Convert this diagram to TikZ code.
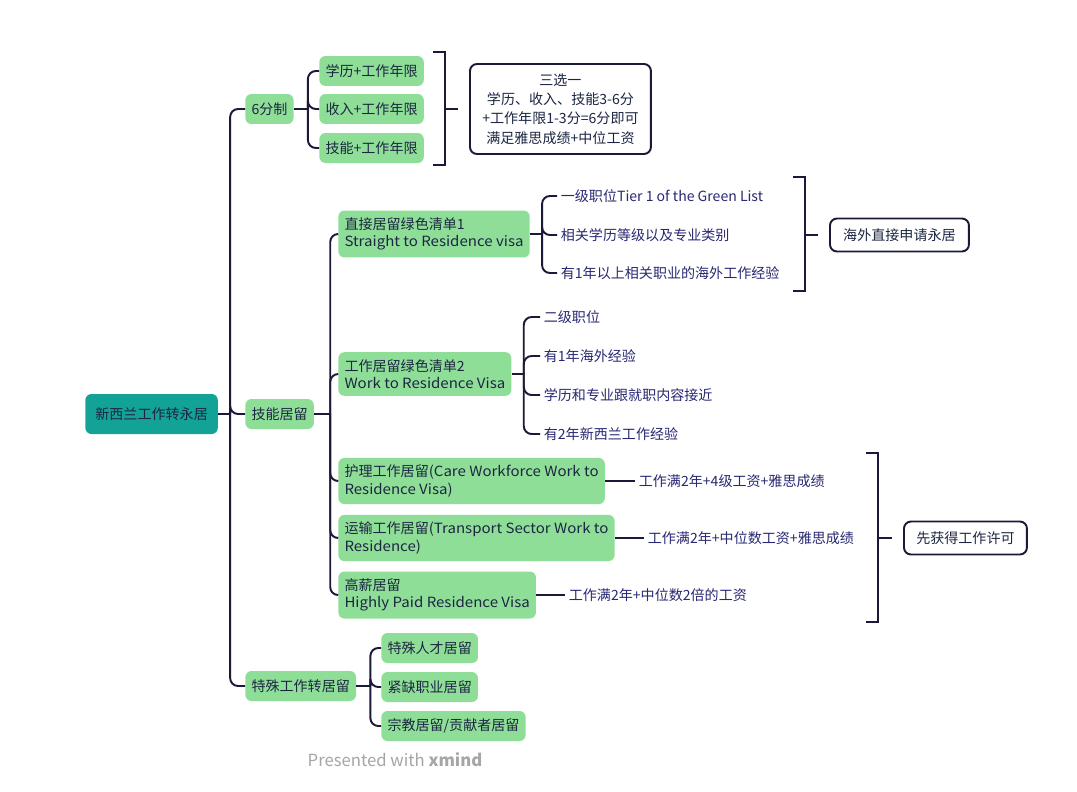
\documentclass[tikz,border=0pt]{standalone}
\usepackage{fontspec}
\setmainfont{Noto Sans CJK SC}
\newfontfamily\latinwide[FakeStretch=1.07]{Noto Sans CJK SC}
\usepackage{xcolor}
\usepackage{tikz}
\usetikzlibrary{positioning}
\definecolor{xmgreen}{RGB}{143,222,152}
\definecolor{xmteal}{RGB}{18,163,150}
\definecolor{xmdark}{RGB}{26,26,56}
\definecolor{xmtext}{RGB}{28,38,66}
\definecolor{xmleaf}{RGB}{40,40,115}

\begin{document}
\begin{tikzpicture}[x=0.02cm, y=-0.02cm,
    every node/.style={font=\fontsize{8}{10}\selectfont, text=xmtext},
    rootbox/.style={fill=xmteal, rounded corners=3.5pt, minimum height=0.8cm, inner xsep=5.7pt, anchor=west},
    topic/.style={fill=xmgreen, rounded corners=3.5pt, minimum height=0.6cm, inner xsep=3.5pt, inner ysep=4pt, align=left, anchor=west},
    leaf/.style={text=xmleaf, inner xsep=2pt, anchor=west},
    note/.style={draw=xmdark, line width=1.1pt, fill=white, rounded corners=4pt, align=center, anchor=west, minimum height=0.66cm},
    conn/.style={draw=xmdark, line width=1.1pt, rounded corners=4.5pt},
    brace/.style={draw=xmdark, line width=1.1pt}
  ]
    \useasboundingbox (0,0) rectangle (1077,791);
    \fill[white] (0,0) rectangle (1077,791);

    % 中心主题
    \node[rootbox] (root) at (85,414) {新西兰工作转永居};
    \node[topic] (fen) at (245,109) {6分制};
    \node[topic] (jineng) at (245,414) {技能居留};
    \node[topic] (teshu) at (245,686) {特殊工作转居留};
    \draw[conn] (root.east) -- ++(12,0) coordinate (s0);
    \foreach \c in {fen,jineng,teshu}
      \draw[conn] (s0) |- (\c.west);

    % 6分制
    \node[topic] (xueli) at (319,71) {学历+工作年限};
    \node[topic] (shouru) at (319,109) {收入+工作年限};
    \node[topic] (jineng6) at (319,148) {技能+工作年限};
    \draw[conn] (fen.east) -- ++(14,0) coordinate (s1);
    \foreach \c in {xueli,shouru,jineng6}
      \draw[conn] (s1) |- (\c.west);
    \draw[brace] (433,52) -- (445,52) -- (445,165) -- (433,165);
    \coordinate (b1) at (445,109);
    \node[note, minimum width=3.62cm, minimum height=1.8cm, font=\fontsize{8}{11}\selectfont] (sanxuan) at (469,109)
      {三选一\\学历、收入、技能3-6分\\+工作年限1-3分=6分即可\\满足雅思成绩+中位工资};
    \draw[conn, shorten >=6pt] (b1) -- (sanxuan.west);

    % 技能居留
    \node[topic] (zhijie) at (338,234) {直接居留绿色清单1\\{\latinwide Straight to Residence visa}};
    \node[topic] (gongzuo) at (338,374) {工作居留绿色清单2\\{\latinwide Work to Residence Visa}};
    \node[topic] (huli) at (338,481) {护理工作居留{\latinwide(Care Workforce Work to}\\{\latinwide Residence Visa)}};
    \node[topic] (yunshu) at (338,538) {运输工作居留{\latinwide(Transport Sector Work to}\\{\latinwide Residence)}};
    \node[topic] (gaoxin) at (338,595) {高薪居留\\{\latinwide Highly Paid Residence Visa}};
    \draw[conn] (jineng.east) -- ++(16,0) coordinate (s2);
    \foreach \c in {zhijie,gongzuo,huli,yunshu,gaoxin}
      \draw[conn] (s2) |- (\c.west);

    % 绿色清单1
    \node[leaf] (z1) at (557,196) {一级职位Tier 1 of the Green List};
    \node[leaf] (z2) at (557,235) {相关学历等级以及专业类别};
    \node[leaf] (z3) at (557,273) {有1年以上相关职业的海外工作经验};
    \draw[conn] (zhijie.east) -- ++(12,0) coordinate (s3);
    \foreach \c in {z1,z2,z3}
      \draw[conn] (s3) |- (\c.west);
    \draw[brace] (793,177) -- (805,177) -- (805,291) -- (793,291);
    \coordinate (b2) at (805,235);
    \node[note, minimum width=2.78cm] (haiwai) at (829,235) {海外直接申请永居};
    \draw[conn, shorten >=6pt] (b2) -- (haiwai.west);

    % 绿色清单2
    \node[leaf] (g1) at (540,317) {二级职位};
    \node[leaf] (g2) at (540,356) {有1年海外经验};
    \node[leaf] (g3) at (540,395) {学历和专业跟就职内容接近};
    \node[leaf] (g4) at (540,434) {有2年新西兰工作经验};
    \draw[conn] (gongzuo.east) -- ++(12,0) coordinate (s4);
    \foreach \c in {g1,g2,g3,g4}
      \draw[conn] (s4) |- (\c.west);

    % 工作许可类
    \node[leaf] (h1) at (635,481) {工作满2年+4级工资+雅思成绩};
    \node[leaf] (y1) at (644,538) {工作满2年+中位数工资+雅思成绩};
    \node[leaf] (x1) at (565,595) {工作满2年+中位数2倍的工资};
    \draw[conn] (huli.east) -- (h1.west);
    \draw[conn] (yunshu.east) -- (y1.west);
    \draw[conn] (gaoxin.east) -- (x1.west);
    \draw[brace] (866,453) -- (878,453) -- (878,622) -- (866,622);
    \coordinate (b3) at (878,538);
    \node[note, minimum width=2.46cm] (xuke) at (903,538) {先获得工作许可};
    \draw[conn, shorten >=6pt] (b3) -- (xuke.west);

    % 特殊工作转居留
    \node[topic] (rencai) at (381,648) {特殊人才居留};
    \node[topic] (jinque) at (381,687) {紧缺职业居留};
    \node[topic] (zongjiao) at (381,726) {宗教居留/贡献者居留};
    \draw[conn] (teshu.east) -- ++(14,0) coordinate (s5);
    \foreach \c in {rencai,jinque,zongjiao}
      \draw[conn] (s5) |- (\c.west);

    \node[text=black!35, font=\fontsize{9.5}{11}\selectfont] (credit) at (395,760) {Presented with \textbf{xmind}};
  \end{tikzpicture}
\end{document}
